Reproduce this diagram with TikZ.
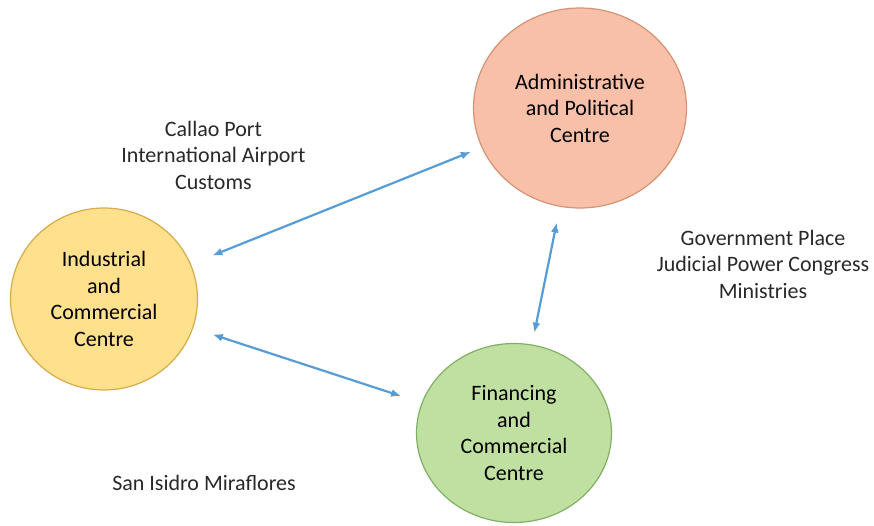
\documentclass[tikz,border=0pt]{standalone}
\usepackage{fontspec}
\setmainfont{Carlito}
\usetikzlibrary{arrows.meta}
\usetikzlibrary{shapes.geometric}
\definecolor{admin-red}{RGB}{248, 192, 168}
\definecolor{admin-edge}{RGB}{214, 146, 116}
\definecolor{indus-yellow}{RGB}{255, 224, 140}
\definecolor{indus-edge}{RGB}{212, 172, 76}
\definecolor{fin-green}{RGB}{192, 224, 162}
\definecolor{fin-edge}{RGB}{128, 176, 100}
\definecolor{link-blue}{RGB}{88, 156, 214}
\definecolor{label-grey}{RGB}{40, 40, 40}

\begin{document}
\begin{tikzpicture}[x=1pt, y=-1pt,
    centre/.style={ellipse, draw, line width=1.2pt, align=center, inner sep=0pt,
      text=black, font=\fontsize{22}{26.5}\selectfont},
    place/.style={align=center, text=label-grey, font=\fontsize{22}{26.5}\selectfont},
    link/.style={{Latex[length=10pt,width=8pt]}-{Latex[length=10pt,width=8pt]},
      draw=link-blue, line width=2.2pt}]
\useasboundingbox (0,0) rectangle (874,525);
\node[centre, fill=admin-red, draw=admin-edge, minimum width=213pt, minimum height=200pt] (admin) at (580,108) {Administrative\\and Political\\Centre};
\node[centre, fill=indus-yellow, draw=indus-edge, minimum width=187pt, minimum height=182pt] (indus) at (104,299) {Industrial\\and\\Commercial\\Centre};
\node[centre, fill=fin-green, draw=fin-edge, minimum width=195pt, minimum height=179pt] (fin) at (514,433) {Financing\\and\\Commercial\\Centre};
\node[place] (port) at (213.5,155) {Callao Port\\International Airport\\Customs};
\node[place] (gov) at (763,264) {Government Place\\Judicial Power Congress\\Ministries};
\node[place] (isidro) at (204,483) {San Isidro Miraflores};
% links between centres
\draw[link, shorten <=11.5pt, shorten >=23pt] (admin) -- (indus);
\draw[link, shorten <=20.5pt, shorten >=21.5pt] (indus) -- (fin);
\draw[link, shorten <=16pt, shorten >=12pt] (admin) -- (fin);
\end{tikzpicture}
\end{document}
